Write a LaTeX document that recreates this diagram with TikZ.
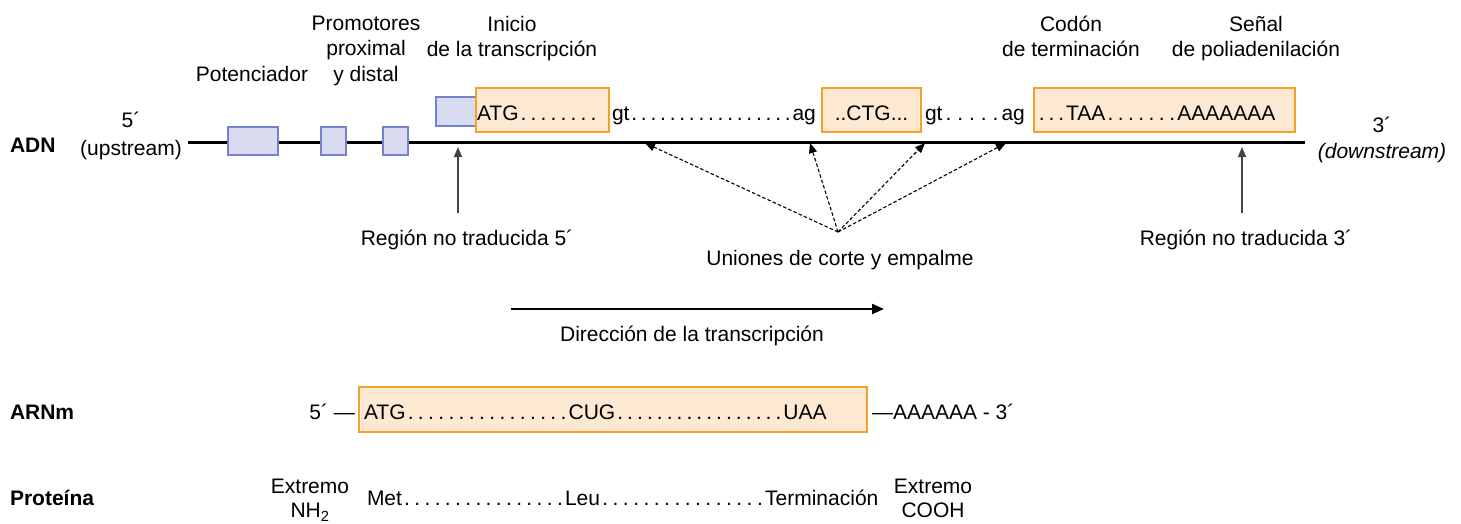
\documentclass[tikz,border=0pt]{standalone}
\usepackage{fontspec}
\setmainfont{Liberation Sans}
\usetikzlibrary{arrows.meta}
\definecolor{orfill}{HTML}{FDE8D2}
\definecolor{ordraw}{HTML}{F5A02A}
\definecolor{blfill}{HTML}{D9DBF1}
\definecolor{bldraw}{HTML}{7482CC}
\definecolor{argray}{HTML}{444444}
\newcommand{\dts}[2]{\hbox to #1{\xleaders\hbox to \dimexpr#1/#2\relax{\hss.\hss}\hfill}}
\begin{document}
\begin{tikzpicture}[x=1pt,y=-1pt,
  every node/.style={font=\fontsize{21}{25.5}\selectfont, inner sep=0pt, outer sep=0pt},
  blbox/.style={draw=bldraw, fill=blfill, line width=1.2pt},
  orbox/.style={draw=ordraw, fill=orfill, line width=1.4pt},
  dnaline/.style={line width=3pt, black},
  uparrow/.style={draw=argray, line width=1.3pt, -{Triangle[length=10pt,width=8pt]}},
  dasharrow/.style={draw=black, line width=1.1pt, dash pattern=on 3.5pt off 2.2pt, -{Triangle[length=10pt,width=8pt]}},
  dirarrow/.style={draw=black, line width=2.2pt, -{Triangle[length=12pt,width=10pt]}},
  lbl/.style={font=\fontsize{21}{25.5}\selectfont\bfseries, anchor=base west}
]
\useasboundingbox (0,0) rectangle (1461,523);

% --- DNA row ---
\coordinate (dl) at (188,142);
\coordinate (dr) at (1305,142);
\draw[dnaline] (dl) -- (dr);

\node[lbl] (adn) at (10,152) {ADN};
\node[align=center, anchor=north, font=\fontsize{21}{28}\selectfont] (five) at (131,112) {5´\\(upstream)};
\node[align=center, anchor=north, font=\fontsize{21}{26}\selectfont] (three) at (1382,117) {3´\\\itshape (downstream)};

\node[blbox, minimum width=50pt, minimum height=28pt] (enh) at (253,141) {};
\node[blbox, minimum width=25pt, minimum height=28pt] (prA) at (333.5,141) {};
\node[blbox, minimum width=25pt, minimum height=28pt] (prB) at (395.5,141) {};
\node[blbox, minimum width=40pt, minimum height=29pt] (tss) at (456,111.5) {};

\node[orbox, minimum width=133pt, minimum height=44pt] (ex1) at (542.5,110) {};
\node[orbox, minimum width=99pt, minimum height=44pt] (ex2) at (871.5,110) {};
\node[orbox, minimum width=261pt, minimum height=44pt] (ex3) at (1164.5,110) {};

\node[anchor=base west] (s1) at (477,120) {ATG\dts{80pt}{8}};
\node[anchor=base west] (s2) at (612,120) {gt\dts{163pt}{17}ag};
\node[anchor=base] (s3) at (871.5,120) {..CTG...};
\node[anchor=base west] (s4) at (925,120) {gt\dts{59pt}{5}ag};
\node[anchor=base west] (s5) at (1037,120) {\dts{29pt}{3}TAA\dts{72pt}{7}AAAAAAA};

% labels above
\node[anchor=north] (pot) at (252,66) {Potenciador};
\node[anchor=north, align=center] (prom) at (366,16) {Promotores\\proximal\\y distal};
\node[anchor=north, align=center] (ini) at (512,16) {Inicio\\de la transcripción};
\node[anchor=north, align=center] (cod) at (1071,16) {Codón\\de terminación};
\node[anchor=north, align=center] (sen) at (1256,16) {Señal\\de poliadenilación};

% arrows below line
\node[anchor=base] (utr5) at (467,245) {Región no traducida 5´};
\node[anchor=base] (utr3) at (1246,245) {Región no traducida 3´};
\coordinate (u5a) at (458,213);
\coordinate (u5b) at (458,147);
\coordinate (u3a) at (1242,213);
\coordinate (u3b) at (1242,147);
\draw[uparrow] (u5a) -- (u5b);
\draw[uparrow] (u3a) -- (u3b);

\node[anchor=base] (uni) at (840,265) {Uniones de corte y empalme};
\coordinate (uc) at (838,232);
\coordinate (j1) at (645,143);
\coordinate (j2) at (810,143);
\coordinate (j3) at (925,143);
\coordinate (j4) at (1006,143);
\draw[dasharrow] (uc) -- (j1);
\draw[dasharrow] (uc) -- (j2);
\draw[dasharrow] (uc) -- (j3);
\draw[dasharrow] (uc) -- (j4);

\coordinate (da) at (511,309);
\coordinate (db) at (884,309);
\draw[dirarrow] (da) -- (db);
\node[anchor=base] (dir) at (692,341) {Dirección de la transcripción};

% --- mRNA row ---
\node[lbl] (arn) at (10,419) {ARNm};
\node[anchor=base east] (m5) at (355,419) {5´ —};
\node[orbox, minimum width=508pt, minimum height=45pt] (mbox) at (613,409.5) {};
\node[anchor=base west] (mseq) at (364,419) {ATG\dts{163pt}{16}CUG\dts{168pt}{17}UAA};
\node[anchor=base west] (m3) at (872,419) {—AAAAAA - 3´};

% --- protein row ---
\node[lbl] (prot) at (10,505) {Proteína};
\node[anchor=north, align=center, font=\fontsize{21}{24.5}\selectfont] (nh) at (310,479) {Extremo\\NH\textsubscript{2}};
\node[anchor=base west] (pseq) at (367,505) {Met\dts{163pt}{16}Leu\dts{165pt}{16}Terminación};
\node[anchor=north, align=center, font=\fontsize{21}{24.5}\selectfont] (cooh) at (933,479) {Extremo\\COOH};
\end{tikzpicture}
\end{document}
